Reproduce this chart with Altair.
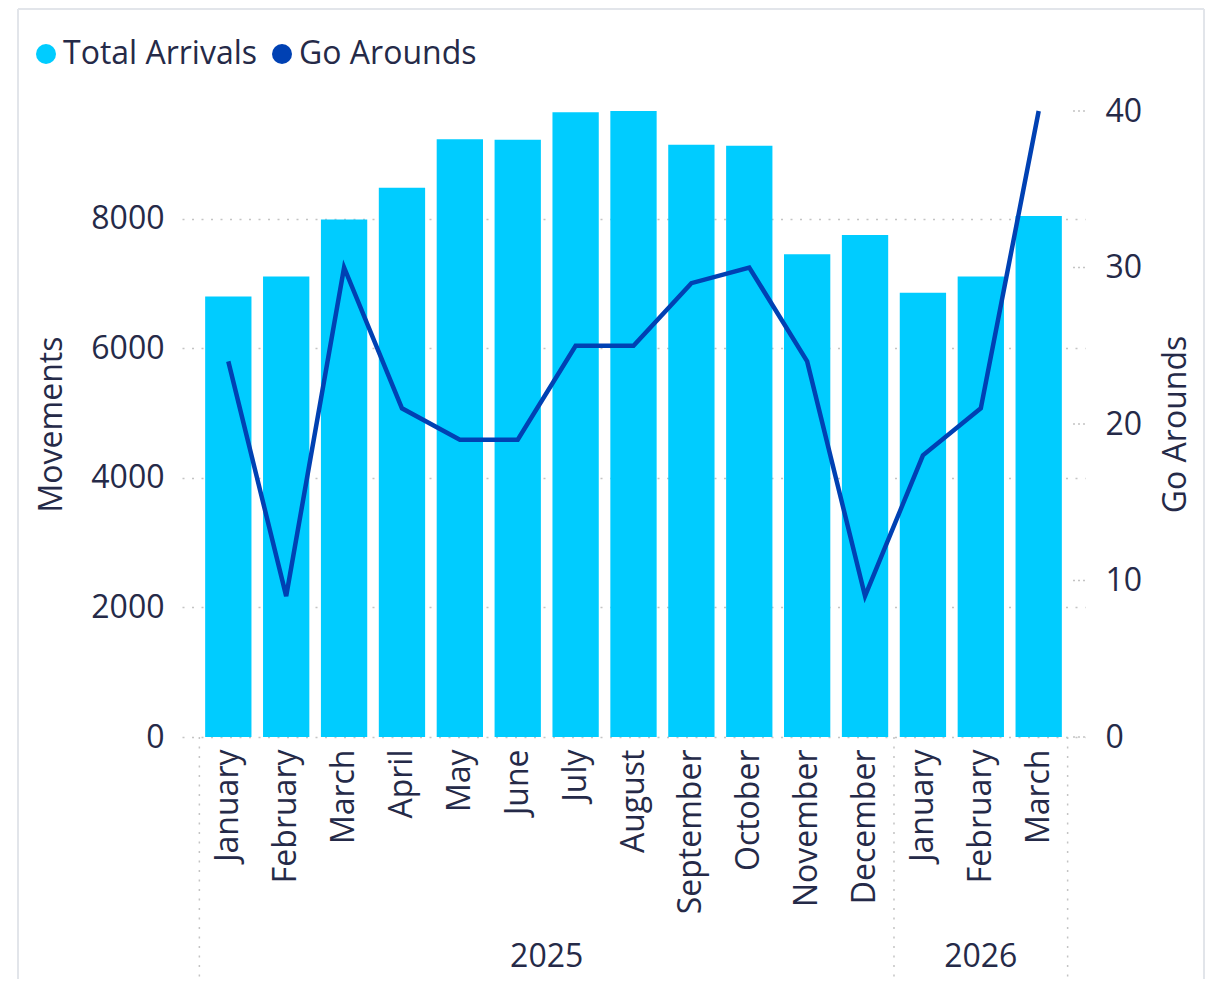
import altair as alt
import pandas as pd

# ---- data ----
months = ["January", "February", "March", "April", "May", "June", "July",
          "August", "September", "October", "November", "December",
          "January", "February", "March"]
years = ["2025"] * 12 + ["2026"] * 3
total_arrivals = [6800, 7110, 7990, 8480, 9230, 9220, 9645, 9665, 9145, 9130,
                  7455, 7750, 6860, 7110, 8045]
go_arounds = [24, 9, 30, 21, 19, 19, 25, 25, 29, 30, 24, 9, 18, 21, 40]
left_ticks = [0, 2000, 4000, 6000, 8000]
right_ticks = [0, 10, 20, 30, 40]
series_names = ["Total Arrivals", "Go Arounds"]

# ---- styles ----
W, H = 903, 626
FONT = "Open Sans"
TXT = "#252A48"
GRID = "#C4C4C4"
BORDER = "#E2E5EA"
BAR = "#00CCFF"
LINE = "#0041B3"
FS = 32
P_IN, P_OUT = 0.2, 0.4

keys = [f"{m} {y}" for m, y in zip(months, years)]
n = len(keys)
df = pd.DataFrame({"key": keys, "month": months, "year": years,
                   "arrivals": total_arrivals, "go": go_arounds})

# year groups (hierarchical axis)
year_names, year_counts = [], []
for y in years:
    if year_names and year_names[-1] == y:
        year_counts[-1] += 1
    else:
        year_names.append(y)
        year_counts.append(1)
bounds = [0]
for c in year_counts:
    bounds.append(bounds[-1] + c)
mids = [(bounds[i] + bounds[i + 1]) / 2 for i in range(len(year_names))]
sep_df = pd.DataFrame({"b": bounds})
yr_df = pd.DataFrame({"mid": mids, "year": year_names})
rt_df = pd.DataFrame({"v": right_ticks})
one = pd.DataFrame({"a": [0]})

band_scale = alt.Scale(type="band", paddingInner=P_IN, paddingOuter=P_OUT)
x_axis = alt.Axis(title=None, labelAngle=270, labelExpr="split(datum.label, ' ')[0]",
                  labelFontSize=FS, labelFont=FONT, labelColor=TXT, ticks=False,
                  tickSize=0, domain=False, grid=False, labelPadding=12)
color_scale = alt.Scale(domain=series_names, range=[BAR, LINE])

bars = alt.Chart(df).transform_calculate(series="'Total Arrivals'").mark_bar(color=BAR).encode(
    x=alt.X("key:N", sort=keys, scale=band_scale, axis=x_axis),
    y=alt.Y("arrivals:Q",
            scale=alt.Scale(domain=[0, max(total_arrivals)], nice=False, zero=True),
            axis=alt.Axis(title="Movements", values=left_ticks, format="d", grid=True,
                          gridDash=[2, 7.5], gridColor=GRID, gridWidth=1.5,
                          ticks=False, domain=False, labelPadding=18, titlePadding=22)),
    color=alt.Color("series:N", scale=color_scale,
                    legend=alt.Legend(orient="none", legendX=-152, legendY=-73,
                                      direction="horizontal", title=None,
                                      symbolType="circle", symbolSize=400,
                                      symbolStrokeWidth=0, labelFontSize=FS,
                                      labelFont=FONT, labelColor=TXT, labelLimit=0,
                                      columnPadding=8, labelOffset=1, padding=0)),
)

go_scale = alt.Scale(domain=[0, max(right_ticks)], nice=False, zero=True)
go_axis = alt.Axis(orient="right", title="Go Arounds", values=right_ticks,
                   grid=False, ticks=False, domain=False, labelPadding=20,
                   titleAngle=270, titleBaseline="top", titlePadding=19)
line = alt.Chart(df).transform_calculate(series="'Go Arounds'").mark_line(strokeWidth=4.5).encode(
    x=alt.X("key:N", sort=keys, scale=band_scale, axis=x_axis),
    y=alt.Y("go:Q", scale=go_scale, axis=go_axis),
    color=alt.Color("series:N", scale=color_scale, legend=None),
)

rticks = alt.Chart(rt_df).mark_rule(color=GRID, strokeDash=[2, 3], strokeWidth=1.5).encode(
    x=alt.value(W - 12), x2=alt.value(W),
    y=alt.Y("v:Q", scale=go_scale, axis=go_axis),
)

main = alt.layer(bars, alt.layer(line, rticks)).resolve_scale(y="independent")

off = P_OUT - P_IN / 2
xq = alt.Scale(domain=[-off, n + off], nice=False, zero=False)
seps = alt.Chart(sep_df).mark_rule(color=GRID, strokeDash=[2, 7.5], strokeWidth=1.5).encode(
    x=alt.X("b:Q", scale=xq, axis=None), y=alt.value(H), y2=alt.value(H + 242))
yrs = alt.Chart(yr_df).mark_text(font=FONT, fontSize=FS, color=TXT, baseline="middle").encode(
    x=alt.X("mid:Q", scale=xq, axis=None), y=alt.value(H + 220), text="year:N")

b_top = alt.Chart(one).mark_rule(color=BORDER, strokeWidth=2).encode(
    x=alt.value(-164), x2=alt.value(W + 119), y=alt.value(-102))
b_left = alt.Chart(one).mark_rule(color=BORDER, strokeWidth=2).encode(
    x=alt.value(-164), y=alt.value(-102), y2=alt.value(H + 242))
b_right = alt.Chart(one).mark_rule(color=BORDER, strokeWidth=2).encode(
    x=alt.value(W + 119), y=alt.value(-102), y2=alt.value(H + 242))

overlay = alt.layer(seps, yrs, b_top, b_left, b_right)

chart = alt.layer(main, overlay).resolve_scale(x="independent").properties(
    width=W, height=H,
    padding={"left": 9, "top": 0, "right": 0, "bottom": 0},
).configure_view(stroke=None).configure_axis(
    labelFont=FONT, titleFont=FONT, labelFontSize=FS, titleFontSize=FS,
    labelColor=TXT, titleColor=TXT, titleFontWeight="normal",
)

chart.save("out.html", embed_options={"renderer": "svg", "actions": False})
